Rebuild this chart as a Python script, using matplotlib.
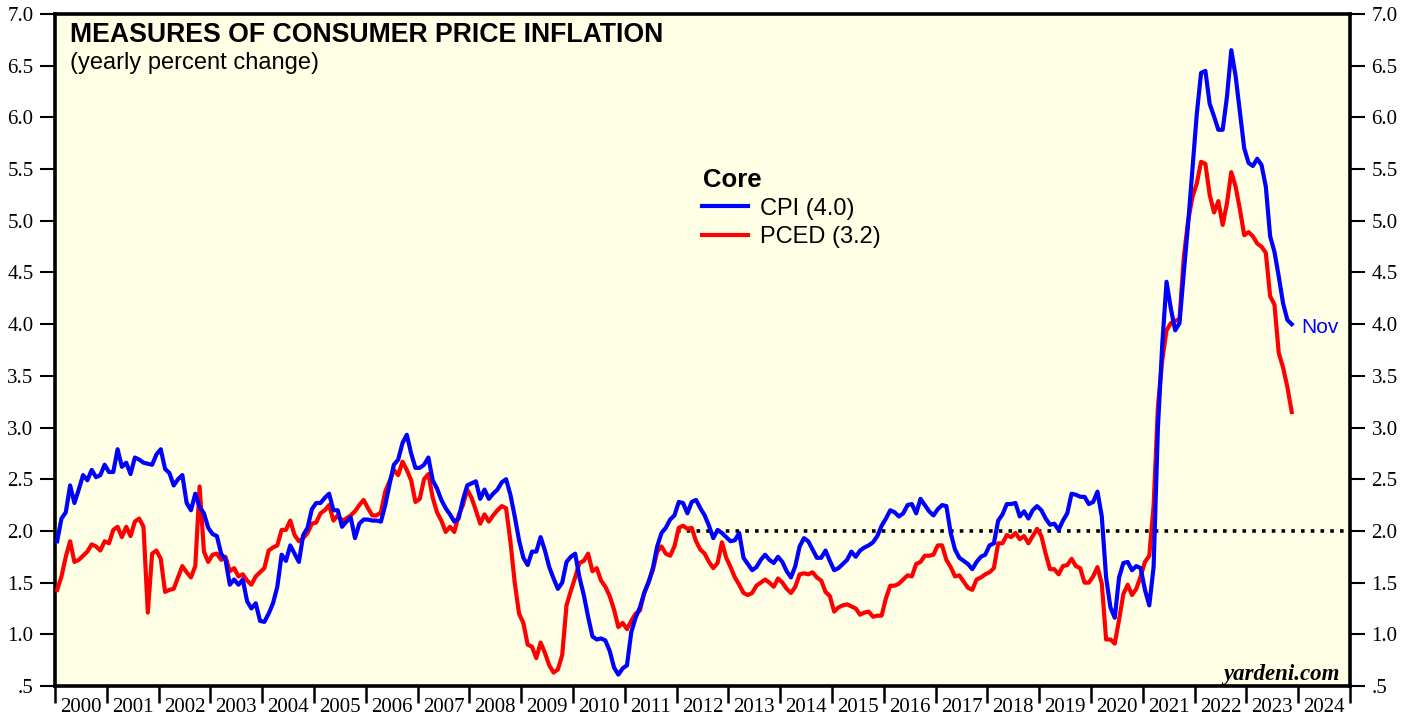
import numpy as np
import matplotlib.pyplot as plt
from matplotlib.lines import Line2D

# Core inflation, yearly percent change, monthly Jan 2000 - Nov 2023
core_cpi = [
    1.90, 2.12, 2.18, 2.44, 2.27, 2.40, 2.54, 2.49, 2.59, 2.52, 2.54, 2.64,  # 2000
    2.57, 2.57, 2.79, 2.62, 2.66, 2.55, 2.71, 2.69, 2.66, 2.65, 2.64, 2.74,  # 2001
    2.79, 2.60, 2.56, 2.44, 2.50, 2.54, 2.27, 2.20, 2.36, 2.23, 2.17, 2.03,  # 2002
    1.97, 1.95, 1.78, 1.72, 1.48, 1.53, 1.48, 1.53, 1.32, 1.25, 1.30, 1.13,  # 2003
    1.12, 1.20, 1.30, 1.46, 1.77, 1.71, 1.86, 1.78, 1.70, 1.96, 2.03, 2.21,  # 2004
    2.27, 2.27, 2.32, 2.36, 2.20, 2.20, 2.04, 2.09, 2.13, 1.93, 2.07, 2.11,  # 2005
    2.11, 2.10, 2.10, 2.09, 2.25, 2.45, 2.64, 2.69, 2.85, 2.93, 2.75, 2.61,  # 2006
    2.61, 2.64, 2.71, 2.49, 2.41, 2.30, 2.22, 2.16, 2.09, 2.12, 2.30, 2.44,  # 2007
    2.46, 2.48, 2.31, 2.40, 2.31, 2.36, 2.40, 2.47, 2.50, 2.35, 2.14, 1.91,  # 2008
    1.74, 1.67, 1.80, 1.80, 1.94, 1.81, 1.65, 1.54, 1.44, 1.50, 1.70, 1.75,  # 2009
    1.78, 1.55, 1.38, 1.17, 0.98, 0.95, 0.96, 0.94, 0.84, 0.68, 0.61, 0.67,  # 2010
    0.70, 1.02, 1.16, 1.26, 1.40, 1.50, 1.64, 1.85, 1.98, 2.03, 2.11, 2.15,  # 2011
    2.28, 2.27, 2.17, 2.28, 2.30, 2.22, 2.15, 2.05, 1.93, 2.01, 1.98, 1.94,  # 2012
    1.90, 1.91, 1.98, 1.74, 1.68, 1.62, 1.65, 1.72, 1.77, 1.72, 1.69, 1.75,  # 2013
    1.70, 1.61, 1.55, 1.66, 1.85, 1.93, 1.90, 1.82, 1.74, 1.74, 1.81, 1.71,  # 2014
    1.62, 1.64, 1.68, 1.72, 1.80, 1.75, 1.81, 1.84, 1.86, 1.89, 1.95, 2.05,  # 2015
    2.12, 2.20, 2.18, 2.14, 2.17, 2.25, 2.26, 2.17, 2.31, 2.25, 2.19, 2.15,  # 2016
    2.21, 2.25, 2.24, 1.98, 1.82, 1.74, 1.71, 1.68, 1.63, 1.70, 1.75, 1.77,  # 2017
    1.86, 1.88, 2.10, 2.16, 2.26, 2.26, 2.27, 2.14, 2.19, 2.12, 2.20, 2.24,  # 2018
    2.20, 2.12, 2.06, 2.07, 2.01, 2.10, 2.17, 2.36, 2.35, 2.33, 2.33, 2.26,  # 2019
    2.28, 2.38, 2.14, 1.55, 1.26, 1.16, 1.55, 1.69, 1.70, 1.62, 1.66, 1.64,  # 2020
    1.43, 1.28, 1.65, 3.00, 3.80, 4.41, 4.15, 3.94, 4.01, 4.50, 4.97, 5.50,  # 2021
    6.03, 6.43, 6.45, 6.13, 6.01, 5.88, 5.88, 6.20, 6.65, 6.40, 6.05, 5.70,  # 2022
    5.56, 5.53, 5.60, 5.54, 5.33, 4.85, 4.70, 4.46, 4.20, 4.04, 4.00,        # 2023
]

core_pced = [
    1.43, 1.56, 1.75, 1.90, 1.70, 1.72, 1.76, 1.80, 1.87, 1.85, 1.81, 1.90,  # 2000
    1.88, 2.01, 2.04, 1.94, 2.04, 1.95, 2.09, 2.12, 2.04, 1.21, 1.78, 1.81,  # 2001
    1.73, 1.41, 1.43, 1.44, 1.55, 1.66, 1.60, 1.55, 1.66, 2.43, 1.80, 1.70,  # 2002
    1.77, 1.78, 1.72, 1.75, 1.61, 1.64, 1.56, 1.58, 1.52, 1.48, 1.56, 1.60,  # 2003
    1.64, 1.81, 1.84, 1.86, 2.01, 2.01, 2.10, 1.96, 1.90, 1.93, 1.98, 2.07,  # 2004
    2.08, 2.17, 2.20, 2.25, 2.10, 2.15, 2.10, 2.12, 2.15, 2.19, 2.25, 2.30,  # 2005
    2.22, 2.15, 2.15, 2.18, 2.38, 2.48, 2.59, 2.54, 2.67, 2.59, 2.49, 2.28,  # 2006
    2.31, 2.50, 2.55, 2.32, 2.18, 2.10, 1.99, 2.04, 1.99, 2.15, 2.25, 2.40,  # 2007
    2.32, 2.20, 2.07, 2.16, 2.09, 2.15, 2.20, 2.24, 2.22, 1.90, 1.50, 1.20,  # 2008
    1.11, 0.90, 0.88, 0.77, 0.92, 0.82, 0.70, 0.63, 0.66, 0.80, 1.28, 1.42,  # 2009
    1.55, 1.69, 1.71, 1.78, 1.61, 1.64, 1.52, 1.46, 1.37, 1.24, 1.07, 1.11,  # 2010
    1.05, 1.13, 1.20, 1.23, 1.40, 1.51, 1.62, 1.80, 1.85, 1.78, 1.76, 1.85,  # 2011
    2.03, 2.05, 2.02, 2.03, 1.90, 1.82, 1.78, 1.70, 1.64, 1.69, 1.89, 1.74,  # 2012
    1.65, 1.55, 1.48, 1.40, 1.38, 1.40, 1.47, 1.50, 1.53, 1.50, 1.46, 1.54,  # 2013
    1.50, 1.44, 1.40, 1.46, 1.58, 1.59, 1.58, 1.60, 1.55, 1.52, 1.41, 1.37,  # 2014
    1.22, 1.26, 1.28, 1.29, 1.27, 1.25, 1.19, 1.21, 1.22, 1.17, 1.18, 1.18,  # 2015
    1.35, 1.47, 1.47, 1.49, 1.53, 1.57, 1.56, 1.68, 1.70, 1.76, 1.76, 1.77,  # 2016
    1.86, 1.86, 1.72, 1.65, 1.56, 1.57, 1.51, 1.45, 1.43, 1.53, 1.55, 1.58,  # 2017
    1.60, 1.64, 1.88, 1.88, 1.96, 1.94, 1.98, 1.92, 1.95, 1.88, 1.95, 2.02,  # 2018
    1.95, 1.78, 1.63, 1.63, 1.58, 1.66, 1.67, 1.73, 1.66, 1.64, 1.50, 1.50,  # 2019
    1.56, 1.65, 1.49, 0.95, 0.95, 0.91, 1.14, 1.39, 1.48, 1.38, 1.44, 1.56,  # 2020
    1.70, 1.76, 2.24, 3.20, 3.65, 3.94, 4.01, 4.03, 4.05, 4.65, 5.00, 5.23,  # 2021
    5.36, 5.57, 5.55, 5.25, 5.08, 5.19, 4.96, 5.17, 5.47, 5.33, 5.11, 4.86,  # 2022
    4.89, 4.85, 4.78, 4.75, 4.69, 4.27, 4.19, 3.72, 3.58, 3.39, 3.15,        # 2023
]

# latest readings as printed in the legend
cpi_latest = "4.0"
pced_latest = "3.2"
last_month = "Nov"

start_year = 2000
years = list(range(2000, 2025))
yticks = [0.5, 1.0, 1.5, 2.0, 2.5, 3.0, 3.5, 4.0, 4.5, 5.0, 5.5, 6.0, 6.5, 7.0]
ytick_labels = [".5", "1.0", "1.5", "2.0", "2.5", "3.0", "3.5", "4.0",
                "4.5", "5.0", "5.5", "6.0", "6.5", "7.0"]
fed_target = 2.0
target_since = 2012

months = start_year + (np.arange(len(core_cpi)) + 0.5) / 12

plt.rcParams['font.family'] = ['Liberation Serif', 'DejaVu Serif']

W, H = 1416, 717
fig = plt.figure(figsize=(W / 100, H / 100), dpi=100)
ax = fig.add_axes([55 / W, 31 / H, 1295 / W, 672 / H])
ax.set_facecolor('#FFFFE6')
ax.set_xlim(years[0], years[-1] + 1)
ax.set_ylim(yticks[0], yticks[-1])

ax.hlines(fed_target, target_since, years[-1] + 1, colors='black',
          linestyles=(0, (1, 1.7)), linewidth=2.6, zorder=2)
ax.plot(months, core_pced, color='#FF0000', linewidth=3.0,
        solid_joinstyle='round', zorder=3)
ax.plot(months, core_cpi, color='#0000FF', linewidth=3.0,
        solid_joinstyle='round', zorder=4)

for sp in ax.spines.values():
    sp.set_linewidth(2.6)

# y axis on both sides
ax.set_yticks(yticks)
ax.set_yticklabels(ytick_labels)
ax.tick_params(axis='y', direction='out', length=10.5, width=1.5,
               left=True, right=True, labelleft=True, labelright=True,
               labelsize=15, pad=5)

# year boundaries as ticks, year names in between
edges = years + [years[-1] + 1]
ax.set_xticks(edges)
ax.set_xticklabels([])
ax.set_xticks([y + 0.5 for y in years], minor=True)
ax.set_xticklabels([str(y) for y in years], minor=True)
ax.tick_params(axis='x', which='major', direction='out', length=12, width=1.8)
ax.tick_params(axis='x', which='minor', length=0, labelsize=15, pad=9)

sans = ['Liberation Sans', 'DejaVu Sans']
fig.text(70 / W, 1 - 42 / H, 'MEASURES OF CONSUMER PRICE INFLATION',
         family=sans, fontsize=19.2, fontweight='bold', va='baseline')
fig.text(70 / W, 1 - 69 / H, '(yearly percent change)',
         family=sans, fontsize=17, va='baseline')

# legend drawn by hand
fig.text(703 / W, 1 - 187 / H, 'Core', family=sans, fontsize=18.5,
         fontweight='bold', va='baseline')
fig.add_artist(Line2D([702 / W, 748 / W], [1 - 206 / H, 1 - 206 / H],
                      color='#0000FF', linewidth=3, transform=fig.transFigure))
fig.add_artist(Line2D([702 / W, 748 / W], [1 - 235 / H, 1 - 235 / H],
                      color='#FF0000', linewidth=3, transform=fig.transFigure))
fig.text(760 / W, 1 - 215 / H, f'CPI ({cpi_latest})', family=sans,
         fontsize=17, va='baseline')
fig.text(760 / W, 1 - 243 / H, f'PCED ({pced_latest})', family=sans,
         fontsize=17, va='baseline')

fig.text(1301 / W, 1 - 333 / H, last_month, family=sans, fontsize=15,
         color='#0000FF', va='baseline')
fig.text(1340 / W, 1 - 680 / H, 'yardeni.com', family=['Liberation Serif'],
         fontsize=16.5, fontweight='bold', fontstyle='italic',
         ha='right', va='baseline')

fig.savefig('out.png', dpi=100, facecolor='white')
